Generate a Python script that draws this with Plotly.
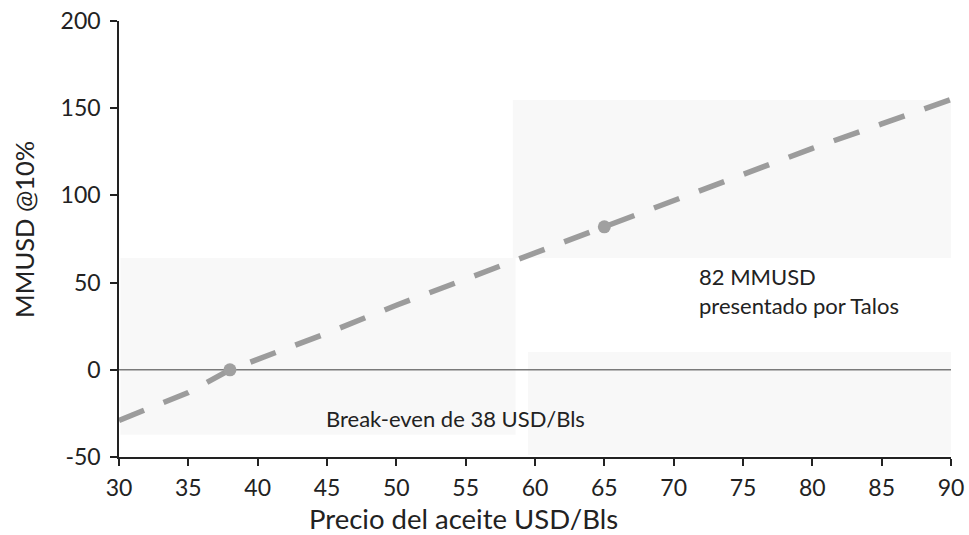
import plotly.graph_objects as go

precio = [30, 35, 38, 40, 45, 50, 55, 60, 65, 70, 75, 80, 85, 90]
vpn = [-29, -13, 0, 6, 21, 37, 52, 67, 82, 97, 112, 127, 141, 155]

puntos_x = [38, 65]
puntos_y = [0, 82]

x_ticks = [30, 35, 40, 45, 50, 55, 60, 65, 70, 75, 80, 85, 90]
y_ticks = [-50, 0, 50, 100, 150, 200]
y_ticktext = ["-50", "0", "50", "100", "150", "200"]

FONT = "Lato, Open Sans, sans-serif"
TXT = "#222222"

fig = go.Figure()

# faint scanned background patches
for x0, x1, y0, y1 in [(30.1, 58.6, -37.3, 64.1), (58.4, 90.5, 64.1, 154.7), (59.5, 90, -48.9, 10.2)]:
    fig.add_shape(type="rect", x0=x0, x1=x1, y0=y0, y1=y1, xref="x", yref="y",
                  fillcolor="#f8f8f8", line=dict(width=0), layer="below")

fig.add_trace(go.Scatter(
    x=[30, 90], y=[0, 0], mode="lines",
    line=dict(color="#7a7a7a", width=1.5), showlegend=False, hoverinfo="skip"))

fig.add_trace(go.Scatter(
    x=precio, y=vpn, mode="lines",
    line=dict(color="#9c9c9c", width=5.5, dash="27px,21px"),
    showlegend=False))

fig.add_trace(go.Scatter(
    x=puntos_x, y=puntos_y, mode="markers",
    marker=dict(color="#a0a0a0", size=13),
    showlegend=False))

fig.add_annotation(x=71.7, y=45, text="82 MMUSD<br>presentado por Talos",
                   showarrow=False, xanchor="left", yanchor="middle", align="left",
                   font=dict(family=FONT, size=22, color=TXT))
fig.add_annotation(x=54.3, y=-28, text="Break-even de 38 USD/Bls",
                   showarrow=False, xanchor="center", yanchor="middle",
                   font=dict(family=FONT, size=22, color=TXT))

# axis titles
fig.add_annotation(x=0.4135, y=-0.14, xref="paper", yref="paper",
                   text="Precio del aceite USD/Bls", showarrow=False,
                   xanchor="center", yanchor="middle",
                   font=dict(family=FONT, size=27.5, color=TXT))
fig.add_annotation(x=-0.1142, y=0.523, xref="paper", yref="paper",
                   text="MMUSD @10%", showarrow=False, textangle=-90,
                   xanchor="center", yanchor="middle",
                   font=dict(family=FONT, size=25.5, color=TXT))

axis_font = dict(family=FONT, size=23, color=TXT)
fig.update_layout(
    width=969, height=535,
    margin=dict(l=119, r=18, t=21, b=78),
    plot_bgcolor="white", paper_bgcolor="white",
    xaxis=dict(range=[30, 90], tickvals=x_ticks, showgrid=False, zeroline=False,
               showline=True, linecolor=TXT, linewidth=1.5, automargin=False,
               ticks="outside", ticklen=7, tickcolor=TXT, tickwidth=1.5,
               tickfont=axis_font, ticklabelstandoff=3, ticklabeloverflow="allow"),
    yaxis=dict(range=[-50, 200], tickvals=y_ticks, ticktext=y_ticktext,
               showgrid=False, zeroline=False, automargin=False,
               showline=True, linecolor=TXT, linewidth=1.5,
               ticks="outside", ticklen=7, tickcolor=TXT, tickwidth=1.5,
               tickfont=axis_font, ticklabelstandoff=5, ticklabeloverflow="allow"),
)

fig.write_html("out.html",
               config={"displayModeBar": False},
               post_script="document.body.style.margin='0';document.body.style.overflow='hidden';")
